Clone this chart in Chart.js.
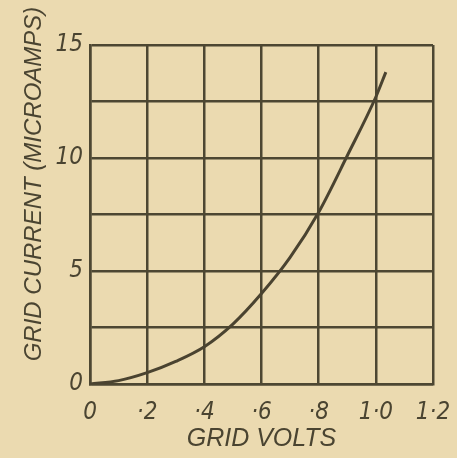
<!DOCTYPE html>
<html>
<head>
<meta charset="utf-8">
<script src="https://cdn.jsdelivr.net/npm/chart.js@4"></script>
<style>
  html, body { margin: 0; padding: 0; background: #ebdab0; }
  #wrap { width: 457px; height: 458px; position: relative; }
</style>
</head>
<body>
<div id="wrap"><canvas id="chart"></canvas></div>
<script>
// grid volts vs grid current
const volts = [0, 0.1, 0.2, 0.3, 0.4, 0.5, 0.6, 0.7, 0.8, 0.9, 1.0, 1.035];
const microamps = [0, 0.15, 0.5, 1.0, 1.65, 2.65, 4.0, 5.6, 7.6, 10.1, 12.7, 13.8];
const xTickLabels = ["0", "·2", "·4", "·6", "·8", "1·0", "1·2"];
const yTickLabels = ["0", "", "5", "", "10", "", "15"];

const ink = "#4d4732";
const textInk = "#4a4431";
const handFont = "'Liberation Sans Narrow', 'DejaVu Sans Condensed', 'Liberation Sans', sans-serif";
const titleFont = "'Liberation Sans', 'DejaVu Sans', sans-serif";

// y title sits higher than the axis middle in the original, so draw it here
const yTitle = {
    id: "yTitle",
    afterDraw(chart) {
        const ctx = chart.ctx;
        ctx.save();
        ctx.translate(34, 184);
        ctx.rotate(-Math.PI / 2);
        ctx.font = "italic 24px " + titleFont;
        ctx.fillStyle = textInk;
        ctx.textAlign = "center";
        ctx.textBaseline = "middle";
        ctx.fillText("GRID CURRENT (MICROAMPS)", 0, 0);
        ctx.restore();
    }
};

const points = volts.map((v, i) => ({ x: v, y: microamps[i] }));

new Chart(document.getElementById("chart"), {
    type: "line",
    data: {
        datasets: [{
            data: points,
            borderColor: "#4a4330",
            borderWidth: 3,
            pointRadius: 0,
            cubicInterpolationMode: "monotone",
            fill: false
        }]
    },
    options: {
        responsive: true,
        maintainAspectRatio: false,
        animation: false,
        layout: { padding: { top: 45, right: 24, left: 0, bottom: 0 } },
        plugins: {
            legend: { display: false },
            tooltip: { enabled: false }
        },
        scales: {
            x: {
                type: "linear",
                min: 0,
                max: 1.2,
                afterBuildTicks: (s) => {
                    s.ticks = xTickLabels.map((_, i) => ({ value: i * 0.2 }));
                },
                afterFit: (s) => {
                    s.height = 74;
                    s.paddingRight = 0;
                    s.paddingLeft = 0;
                },
                ticks: {
                    callback: (v, i) => xTickLabels[i],
                    color: textInk,
                    font: { family: handFont, size: 24, style: "italic" },
                    padding: 14,
                    maxRotation: 0,
                    autoSkip: false
                },
                grid: { color: ink, lineWidth: 2.5, drawTicks: false },
                border: { color: ink, width: 2.5 },
                title: {
                    display: true,
                    text: "GRID VOLTS",
                    color: textInk,
                    font: { family: titleFont, size: 25, style: "italic" },
                    padding: { top: 0, bottom: 4 }
                }
            },
            y: {
                min: 0,
                max: 15,
                afterBuildTicks: (s) => {
                    s.ticks = yTickLabels.map((_, i) => ({ value: i * 2.5 }));
                },
                afterFit: (s) => { s.width = 90; },
                ticks: {
                    callback: (v, i) => yTickLabels[i],
                    color: textInk,
                    font: { family: handFont, size: 24, style: "italic" },
                    padding: 7,
                    autoSkip: false
                },
                grid: { color: ink, lineWidth: 2.5, drawTicks: false },
                border: { color: ink, width: 2.5 }
            }
        }
    },
    plugins: [yTitle]
});
</script>
</body>
</html>
